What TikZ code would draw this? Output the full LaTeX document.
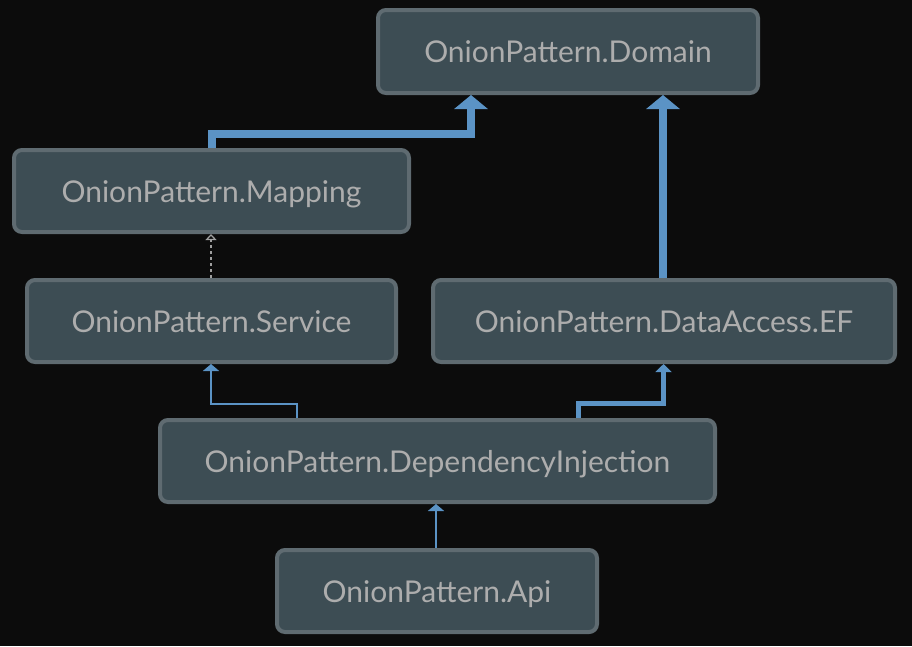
\documentclass[tikz,border=0pt]{standalone}
\usepackage{fontspec}
\setmainfont{Lato}
\usetikzlibrary{arrows.meta}
\definecolor{bg}{HTML}{0C0C0C}
\definecolor{boxfill}{HTML}{3D4D54}
\definecolor{boxline}{HTML}{5F6B71}
\definecolor{txt}{HTML}{ADADAD}
\definecolor{blu}{HTML}{5B93C5}
\definecolor{dotc}{HTML}{A0A0A0}
\tikzset{
  pkg/.style={draw=boxline, fill=boxfill, line width=4pt, rounded corners=8pt,
    minimum height=82pt, text=txt, font=\fontsize{30}{34}\selectfont, inner sep=0pt,
    text depth=0pt, text height=22pt},
  bigarr/.style={draw=blu, line width=8pt, -{Triangle[width=33pt,length=14pt]}},
  medarr/.style={draw=blu, line width=5pt, -{Triangle[width=16pt,length=8pt]}},
  thinarr/.style={draw=blu, line width=2pt, -{Triangle[width=16pt,length=7pt]}},
  dotarr/.style={draw=dotc, line width=2pt, dash pattern=on 3pt off 3pt, -{Triangle[open,width=11pt,length=6pt,line width=1.2pt]}}
}
\begin{document}
\begin{tikzpicture}[x=1pt,y=-1pt]
\fill[bg] (0,0) rectangle (912,646);
\useasboundingbox (0,0) rectangle (912,646);
\node[pkg, minimum width=380pt, minimum height=83pt] (dom) at (568,51.5) {OnionPattern.Domain};
\node[pkg, minimum width=395pt] (map) at (211.5,191) {OnionPattern.Mapping};
\node[pkg, minimum width=369pt] (srv) at (211.5,321) {OnionPattern.Service};
\node[pkg, minimum width=462pt] (da) at (664,321) {OnionPattern.DataAccess.EF};
\node[pkg, minimum width=555pt] (di) at (437.5,461) {OnionPattern.DependencyInjection};
\node[pkg, minimum width=320pt] (api) at (437,591) {OnionPattern.Api};
\draw[bigarr] (map.north) -- ++(0,-14) -| ([xshift=-97pt]dom.south);
\draw[bigarr] ([xshift=-1pt]da.north) -- ([xshift=-1pt]da.north |- dom.south);
\draw[dotarr] ([xshift=-0.5pt]srv.north) -- ([xshift=-0.5pt]map.south);
\draw[thinarr] ([xshift=-140.5pt]di.north) -- ++(0,-14) -| ([xshift=-0.5pt]srv.south);
\draw[medarr] ([xshift=141pt]di.north) -- ++(0,-15) -| ([xshift=-0.5pt]da.south);
\draw[thinarr] ([xshift=-1pt]api.north) -- ([xshift=-1.5pt]di.south);
\end{tikzpicture}
\end{document}
